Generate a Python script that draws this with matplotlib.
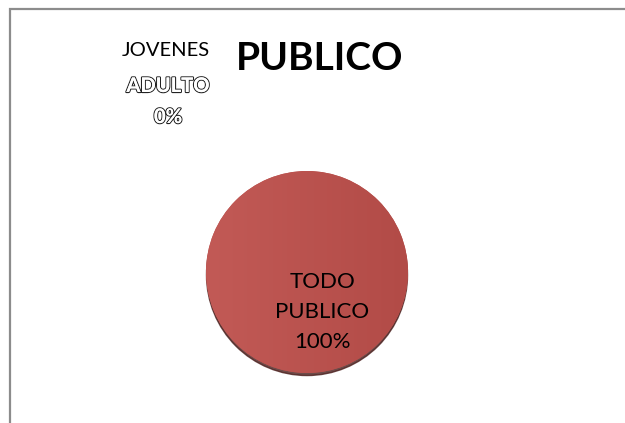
import numpy as np
import matplotlib.pyplot as plt
import matplotlib.patheffects as pe
from matplotlib.patches import Rectangle, Ellipse
from matplotlib.colors import LinearSegmentedColormap

# Chart data
title = "PUBLICO"
labels = ["JOVENES\nADULTO", "TODO\nPUBLICO"]
values = [0, 100]
colors = ["#4F81BD", "#BA524E"]

W, H = 625, 423
fig = plt.figure(figsize=(W / 100, H / 100), dpi=100)
plt.rcParams['font.family'] = ['Lato', 'DejaVu Sans']

# chart border (only top/left visible in the crop)
fig.patches.append(Rectangle((9.5 / W, -0.1), 1.2, (H - 9.5) / H + 0.1, transform=fig.transFigure,
                             fill=False, edgecolor="#8c8c8c", linewidth=1.6))

# pie area
cx, cy, r = 307, 272, 101
ax = fig.add_axes([(cx - r) / W, (H - cy - r) / H, 2 * r / W, 2 * r / H])
shadow = Ellipse((0.0, -0.03), 1.99, 1.99, color="#4a1e1c", alpha=0.8, zorder=0, clip_on=False)
ax.add_patch(shadow)
wedges, _ = ax.pie(values, colors=colors, startangle=90, counterclock=False, radius=1.0,
                   wedgeprops=dict(linewidth=0))
for w in wedges:
    w.set_clip_on(False)
    w.set_zorder(1)

# subtle horizontal gradient on the big slice
grad = np.linspace(0, 1, 256)[None, :]
cmap = LinearSegmentedColormap.from_list("g", ["#C25A56", "#B24B47"])
img = ax.imshow(grad, cmap=cmap, extent=[-1, 1, -1, 1], aspect="auto", zorder=2)
img.set_clip_path(wedges[1])
ax.set_xlim(-1, 1)
ax.set_ylim(-1, 1)
ax.set_aspect("auto")
ax.axis("off")

pct = [f"{v / sum(values) * 100:.0f}%" for v in values]

# title
fig.text(320 / W, 1 - 59 / H, title, ha="center", va="center", fontsize=28, fontweight="bold")

# small slice label (outside, upper left)
lab0 = labels[0].split("\n")
fig.text(166 / W, 1 - 51 / H, lab0[0], ha="center", va="center", fontsize=14.5)
outline = [pe.withStroke(linewidth=1.6, foreground="#222222"), pe.Normal()]
fig.text(168 / W, 1 - 86 / H, lab0[1], ha="center", va="center", fontsize=14.5, fontweight="bold",
         color="white", path_effects=outline)
fig.text(168 / W, 1 - 117 / H, pct[0], ha="center", va="center", fontsize=14.5, fontweight="bold",
         color="white", path_effects=outline)

# big slice label
fig.text(322 / W, 1 - 312 / H, labels[1] + "\n" + pct[1], ha="center", va="center",
         fontsize=16, linespacing=1.62)

fig.savefig("out.png", dpi=100, facecolor="white")
plt.close()
